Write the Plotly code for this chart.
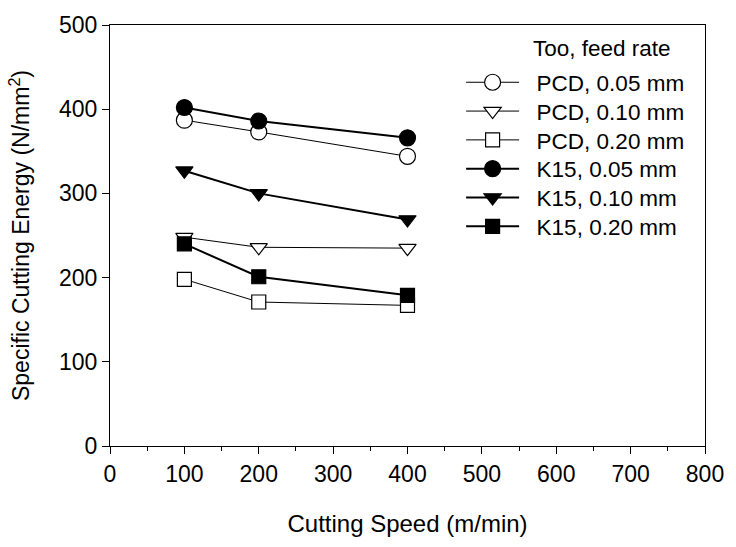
import plotly.graph_objects as go

# Cutting speed (m/min)
speed = [100, 200, 400]

# Specific cutting energy (N/mm^2) per tool / feed rate
pcd_005 = [387, 373, 344]
pcd_010 = [248, 236, 235]
pcd_020 = [198, 171, 167]
k15_005 = [402, 386, 366]
k15_010 = [327, 300, 269]
k15_020 = [240, 201, 179]

series = [
    ("PCD, 0.05 mm", pcd_005, "circle-open", 16, 1.0),
    ("PCD, 0.10 mm", pcd_010, "triangle-down-open", 15, 1.0),
    ("PCD, 0.20 mm", pcd_020, "square-open", 14, 1.0),
    ("K15, 0.05 mm", k15_005, "circle", 16, 2.0),
    ("K15, 0.10 mm", k15_010, "triangle-down", 15, 2.0),
    ("K15, 0.20 mm", k15_020, "square", 14, 2.0),
]

FONT = "Liberation Sans, Arial, Helvetica, sans-serif"
NBSP = "\u00a0"

# Plot-area pixel edges, used to place legend rows in paper coordinates
PX_L, PX_R, PX_T, PX_B = 110, 715, 15, 446


def px_x(p):
    return (p - PX_L) / (PX_R - PX_L)


def px_y(p):
    return (PX_B - p) / (PX_B - PX_T)


LEGEND_TOP = 74
LEGEND_STEP = 29.5

fig = go.Figure()
legends = {}
for i, (name, vals, sym, size, lw) in enumerate(series):
    is_open = sym.endswith("-open")
    key = "legend" if i == 0 else f"legend{i + 1}"
    fig.add_trace(go.Scatter(
        x=speed, y=vals, name=NBSP * 2 + name, mode="lines+markers",
        legend=key,
        line=dict(color="black", width=lw),
        marker=dict(
            symbol=sym.replace("-open", ""), size=size,
            color="white" if is_open else "black",
            line=dict(color="black", width=1.2),
        ),
    ))
    legends[key] = dict(
        x=px_x(467), y=px_y(LEGEND_TOP + i * LEGEND_STEP),
        xanchor="left", yanchor="middle",
        bgcolor="rgba(0,0,0,0)", borderwidth=0,
        font=dict(family=FONT, size=22.5, color="black"),
        itemwidth=53,
    )

axis_common = dict(
    showline=True, linecolor="black", linewidth=1, mirror=True,
    showgrid=False, zeroline=False,
    ticks="outside", ticklen=7, tickwidth=1, tickcolor="black",
    tickfont=dict(family=FONT, size=23, color="black"),
)

fig.update_xaxes(
    range=[0, 800], dtick=100, tick0=0,
    minor=dict(ticks="outside", ticklen=4, tickwidth=1, tickcolor="black", dtick=50),
    title=dict(text="Cutting Speed (m/min)", font=dict(family=FONT, size=24, color="black"),
               standoff=29),
    **axis_common,
)
fig.update_yaxes(
    range=[0, 500], dtick=100, tick0=0,
    title=dict(text="Specific Cutting Energy (N/mm<sup>2</sup>)",
               font=dict(family=FONT, size=23, color="black"), standoff=22),
    **axis_common,
)

fig.add_annotation(
    text="Too, feed rate", xref="paper", yref="paper",
    x=px_x(538), y=px_y(39), xanchor="left", yanchor="middle",
    showarrow=False, font=dict(family=FONT, size=22.5, color="black"),
)

fig.update_layout(
    width=736, height=547,
    margin=dict(l=PX_L, r=736 - PX_R, t=PX_T, b=547 - PX_B),
    paper_bgcolor="white", plot_bgcolor="white",
    showlegend=True,
    **legends,
)

fig.write_html("out.html")
